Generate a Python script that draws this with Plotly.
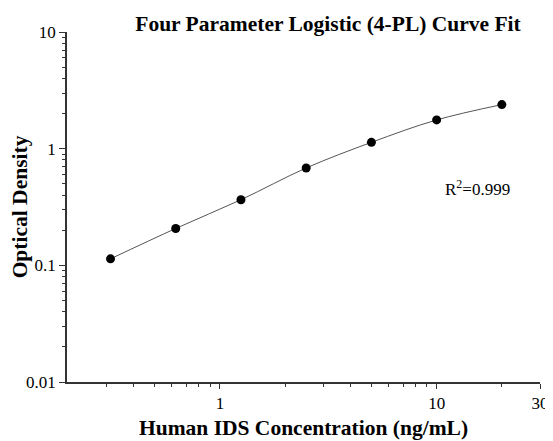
import plotly.graph_objects as go

# Data
concentration = [0.3125, 0.625, 1.25, 2.5, 5, 10, 20]
optical_density = [0.1137, 0.207, 0.365, 0.683, 1.133, 1.763, 2.386]

x_major_ticks = [1, 10, 30]
x_major_labels = ["1", "10", "30"]
x_minor_ticks = [0.3, 0.4, 0.5, 0.6, 0.7, 0.8, 0.9, 2, 3, 4, 5, 6, 7, 8, 9, 20]
y_major_ticks = [0.01, 0.1, 1, 10]
y_major_labels = ["0.01", "0.1", "1", "10"]
y_minor_ticks = [m * d for d in (0.01, 0.1, 1) for m in range(2, 10)]

title_text = "Four Parameter Logistic (4-PL) Curve Fit"
x_title = "Human IDS Concentration (ng/mL)"
y_title = "Optical Density"
r2_text = "R<sup>2</sup>=0.999"

FONT = "Liberation Serif, Times New Roman, serif"

# page body has an 8px default margin, so the figure is drawn 8px in
W, H = 545, 433

fig = go.Figure()
fig.add_trace(go.Scatter(
    x=concentration, y=optical_density,
    mode="lines",
    line=dict(color="#555555", width=1, shape="spline", smoothing=1.0),
    hoverinfo="skip", showlegend=False,
))
fig.add_trace(go.Scatter(
    x=concentration, y=optical_density,
    mode="markers",
    marker=dict(color="black", size=9),
    showlegend=False,
))

fig.update_layout(
    width=W, height=H,
    margin=dict(l=59, r=13, t=24, b=59),
    plot_bgcolor="white", paper_bgcolor="white",
    font=dict(family=FONT, color="black", size=17),
    title=dict(
        text="<b>" + title_text + "</b>",
        x=320 / W, xanchor="center", xref="container",
        y=1 - 15 / H, yanchor="middle", yref="container",
        font=dict(family=FONT, size=21.5, color="black"),
    ),
    xaxis=dict(
        type="log", range=[-0.706, 1.4771], automargin=False,
        tickmode="array", tickvals=x_major_ticks, ticktext=x_major_labels,
        ticks="outside", ticklen=5, tickwidth=1, tickcolor="#333",
        showline=True, linecolor="#333", linewidth=1.5,
        showgrid=False, zeroline=False,
        tickfont=dict(family=FONT, size=17),
        minor=dict(tickmode="array", tickvals=x_minor_ticks,
                   ticks="outside", ticklen=3, tickcolor="#333", showgrid=False),
        title=dict(text="<b>" + x_title + "</b>",
                   font=dict(family=FONT, size=21.5), standoff=8),
    ),
    yaxis=dict(
        type="log", range=[-2, 1], automargin=False,
        tickmode="array", tickvals=y_major_ticks, ticktext=y_major_labels,
        ticks="outside", ticklen=6, tickwidth=1, tickcolor="#333",
        showline=True, linecolor="#333", linewidth=1.5,
        showgrid=False, zeroline=False,
        tickfont=dict(family=FONT, size=17),
        minor=dict(tickmode="array", tickvals=y_minor_ticks,
                   ticks="outside", ticklen=3, tickcolor="#333", showgrid=False),
        title=dict(text="<b>" + y_title + "</b>",
                   font=dict(family=FONT, size=21.5), standoff=6),
    ),
    annotations=[dict(
        text=r2_text, xref="paper", yref="paper",
        x=0.867, y=0.554, xanchor="center", yanchor="middle",
        showarrow=False, font=dict(family=FONT, size=17, color="black"),
    )],
)

fig.write_html("out.html")
